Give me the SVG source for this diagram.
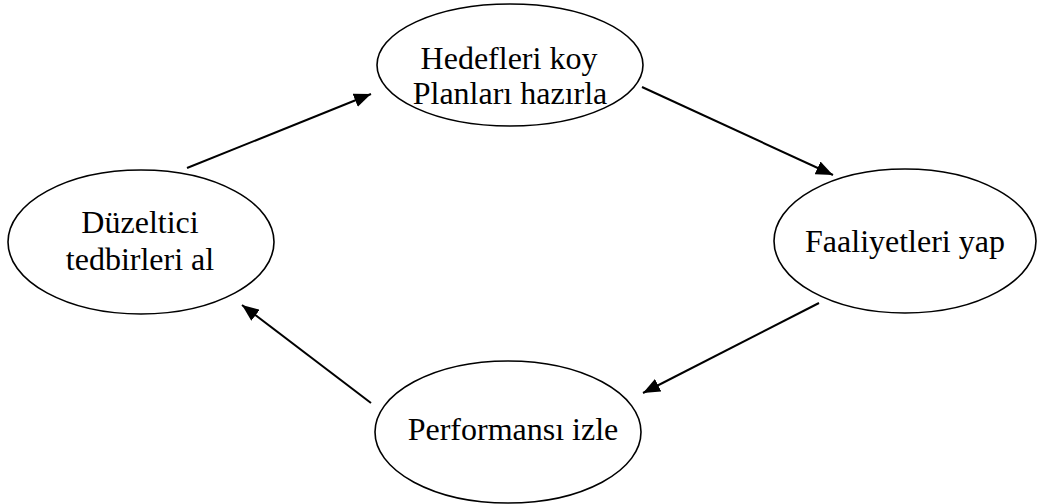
<svg xmlns="http://www.w3.org/2000/svg" width="1037" height="504" viewBox="0 0 1037 504">
  <style>
    .node ellipse { fill: #ffffff; stroke: #000000; stroke-width: 1.6; }
    .node text { font-family: "Liberation Serif", "Times New Roman", serif; font-size: 32px; fill: #000000; text-anchor: middle; }
    .edge { stroke: #000000; stroke-width: 2; fill: none; marker-end: url(#arrow); }
  </style>
  <defs>
    <marker id="arrow" markerUnits="userSpaceOnUse" markerWidth="18" markerHeight="14" refX="17" refY="7" orient="auto">
      <path d="M0,0 L17,7 L0,14 Z" fill="#000000"/>
    </marker>
  </defs>
  <rect width="1037" height="504" fill="#ffffff"/>

  <g id="connectors">
    <line class="edge" x1="187" y1="168" x2="371" y2="94"/>
    <line class="edge" x1="642" y1="87" x2="833" y2="175"/>
    <line class="edge" x1="819" y1="303" x2="643" y2="393"/>
    <line class="edge" x1="371" y1="403" x2="242" y2="305"/>
  </g>

  <g id="node-hedefler" class="node">
    <ellipse cx="510" cy="65" rx="133" ry="61"/>
    <text x="509" y="69">Hedefleri koy</text>
    <text x="510" y="104">Planları hazırla</text>
  </g>

  <g id="node-faaliyetler" class="node">
    <ellipse cx="905" cy="241" rx="131" ry="72"/>
    <text x="905" y="252">Faaliyetleri yap</text>
  </g>

  <g id="node-performans" class="node">
    <ellipse cx="508" cy="432" rx="133" ry="71"/>
    <text x="513" y="440">Performansı izle</text>
  </g>

  <g id="node-duzeltici" class="node">
    <ellipse cx="141" cy="242" rx="133" ry="72"/>
    <text x="140" y="233">Düzeltici</text>
    <text x="140" y="270">tedbirleri al</text>
  </g>
</svg>
